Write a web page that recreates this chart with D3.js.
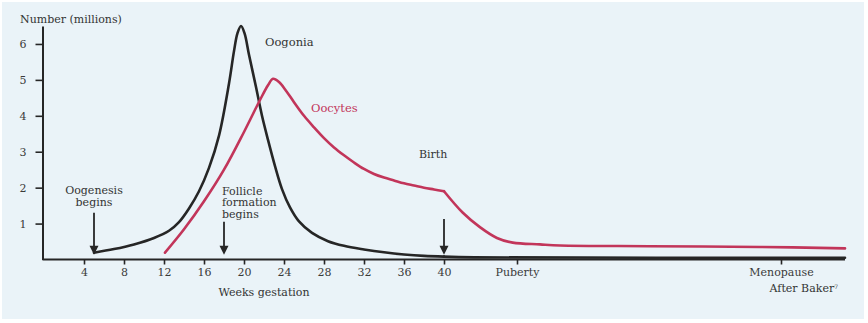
<!DOCTYPE html>
<html>
<head>
<meta charset="utf-8">
<script src="https://cdn.jsdelivr.net/npm/d3@7"></script>
<style>
  body { margin: 0; background: #ffffff; }
  svg { display: block; }
  text { font-family: "DejaVu Serif", "Liberation Serif", serif; }
</style>
</head>
<body>
<svg id="chart" width="868" height="323"></svg>
<script>
// Age is measured in weeks since conception; postnatal ages are given in years.
const toWeeks = years => 40 + years * 52;

// Oogonia (millions) during gestation
const oogoniaWeeks  = [5, 7, 9, 11, 12.5, 13.5, 14.5, 15.5, 16.5, 17.5, 18.5, 19.0, 19.35, 19.7, 20.05, 20.5, 21.2, 21.8, 22.4, 23.1, 23.8, 24.6, 25.5, 26.8, 28.4, 30, 32, 34, 36, 38, 40];
const oogoniaValues = [0.19, 0.29, 0.42, 0.6, 0.8, 1.04, 1.42, 1.9, 2.55, 3.45, 4.9, 5.8, 6.3, 6.5, 6.3, 5.7, 4.8, 4.0, 3.33, 2.6, 1.96, 1.45, 1.06, 0.74, 0.51, 0.38, 0.28, 0.2, 0.14, 0.1, 0.08];
// Oogonia after birth (years)
const oogoniaPostYears  = [0, 5, 52];
const oogoniaPostValues = [0.08, 0.06, 0.05];

// Oocytes (millions) during gestation
const oocyteWeeks  = [12.1, 14, 16, 18, 20, 21.6, 22.4, 22.9, 23.5, 24.2, 25, 26, 27, 28, 29, 30, 31, 32, 33, 34, 35, 36, 37, 38, 39, 40];
const oocyteValues = [0.19, 0.84, 1.62, 2.5, 3.55, 4.44, 4.85, 5.03, 4.94, 4.7, 4.38, 4.0, 3.68, 3.38, 3.12, 2.9, 2.7, 2.52, 2.38, 2.28, 2.2, 2.12, 2.06, 2.0, 1.95, 1.9];
// Oocytes after birth (years)
const oocytePostYears  = [0, 3.1, 5.9, 8.7, 11.3, 15.3, 18.2, 31, 47, 52];
const oocytePostValues = [1.9, 1.3, 0.9, 0.6, 0.47, 0.42, 0.39, 0.37, 0.35, 0.31];

// Axis ticks
const weekTicks = [4, 8, 12, 16, 20, 24, 28, 32, 36, 40];
const lifeTicks = [12, 50];
const lifeTickLabels = ["Puberty", "Menopause"];
const yTicks = [1, 2, 3, 4, 5, 6];

// Event markers
const eventLabels = [["Oogenesis", "begins"], ["Follicle", "formation", "begins"]];
const eventWeeks  = [5, 18, 40];

const svg = d3.select("#chart");
const ink = "#262626";
const red = "#c2355a";

// Panel background
svg.append("rect")
  .attr("x", 2).attr("y", 2).attr("width", 862).attr("height", 317)
  .attr("fill", "#eaf3f8");

// Piecewise scale: linear in gestation weeks, compressed after birth
const x = d3.scaleLinear()
  .domain([0, 40, toWeeks(12), toWeeks(50), toWeeks(52)])
  .range([44, 444, 517, 781, 845]);
const y = d3.scaleLinear().domain([0, 6.5]).range([259.5, 26]);

// Axes
const xAxis = d3.axisBottom(x)
  .tickValues(weekTicks.concat(lifeTicks.map(toWeeks)))
  .tickFormat((d, i) => i < weekTicks.length ? weekTicks[i] : lifeTickLabels[i - weekTicks.length])
  .tickSize(5).tickSizeOuter(0).tickPadding(4);
const gx = svg.append("g").attr("transform", `translate(0,${y(0)})`).call(xAxis);
gx.select(".domain").attr("d", `M42.5,0H${x(toWeeks(52))}`);

const yAxis = d3.axisLeft(y).tickValues(yTicks).tickFormat(d3.format("d"))
  .tickSize(7).tickSizeOuter(0).tickPadding(9);
const gy = svg.append("g").attr("transform", "translate(42.5,0)").call(yAxis);

[gx, gy].forEach(g => {
  g.select(".domain").attr("stroke", ink).attr("stroke-width", 2);
  g.selectAll(".tick line").attr("stroke", ink).attr("stroke-width", 1.6);
  g.selectAll(".tick text").attr("fill", "#3a3a3a").style("font-size", "11px")
    .style("font-family", '"DejaVu Serif", serif');
});

// Curves
const line = d3.line().x(d => x(d[0])).y(d => y(d[1])).curve(d3.curveCatmullRom.alpha(0.5));
const series = [
  { w: oogoniaWeeks, v: oogoniaValues, color: ink },
  { w: oogoniaPostYears.map(toWeeks), v: oogoniaPostValues, color: ink },
  { w: oocyteWeeks, v: oocyteValues, color: red },
  { w: oocytePostYears.map(toWeeks), v: oocytePostValues, color: red }
];
series.forEach(s => {
  svg.append("path")
    .datum(s.w.map((w, i) => [w, s.v[i]]))
    .attr("d", line)
    .attr("fill", "none")
    .attr("stroke", s.color)
    .attr("stroke-width", 2.6)
    .attr("stroke-linejoin", "round")
    .attr("stroke-linecap", "round");
});

// Arrows marking events
const arrowTail = [1.3, 1.05, 1.13];
const arrowTip = 0.13;
eventWeeks.forEach((w, i) => {
  const ax = x(w), y0 = y(arrowTail[i]), y1 = y(arrowTip);
  svg.append("line")
    .attr("x1", ax).attr("x2", ax).attr("y1", y0).attr("y2", y1 - 7)
    .attr("stroke", ink).attr("stroke-width", 1.8);
  svg.append("path")
    .attr("d", `M${ax - 4.5},${y1 - 9}L${ax + 4.5},${y1 - 9}L${ax},${y1}Z`)
    .attr("fill", ink);
});

// Text
function label(txt, tx, ty, opts = {}) {
  return svg.append("text")
    .attr("x", tx).attr("y", ty)
    .attr("dy", "0.35em")
    .attr("text-anchor", opts.anchor || "start")
    .attr("fill", opts.color || "#333")
    .style("font-size", (opts.size || 11) + "px")
    .text(txt);
}

label("Number (millions)", 20, 19);
label("Weeks gestation", x(22), 292, { anchor: "middle" });
label("Oogonia", x(22.1), 42, { size: 11.5 });
label("Oocytes", x(26.7), 108, { size: 11.5, color: red });
label("Birth", x(37.5), 154);

eventLabels[0].forEach((t, i) => label(t, x(eventWeeks[0]), 190 + i * 12.5, { anchor: "middle" }));
eventLabels[1].forEach((t, i) => label(t, x(17.8), 191 + i * 11.5));

const baker = label("After Baker", 838, 288, { anchor: "end" });
baker.append("tspan").attr("dy", "-0.45em").style("font-size", "6px").text("7");
</script>
</body>
</html>
